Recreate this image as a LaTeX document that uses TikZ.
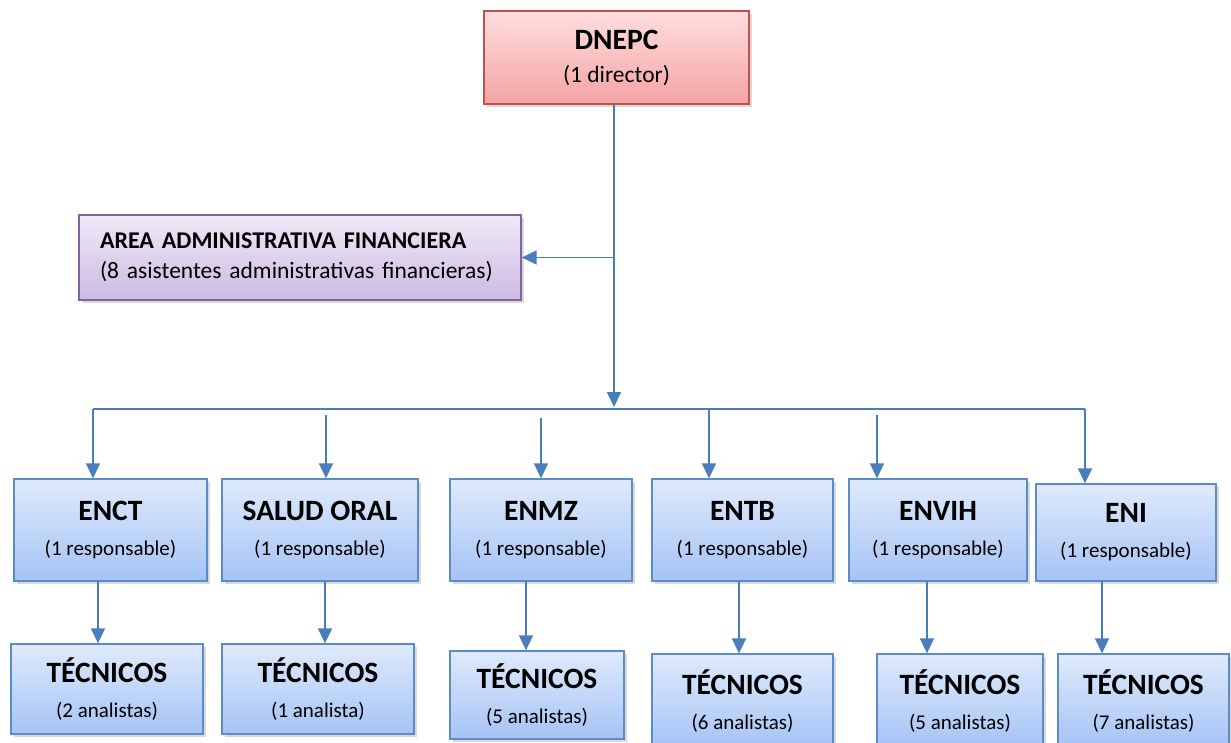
\documentclass[tikz,border=0pt]{standalone}
\usepackage{fontspec}
\setmainfont{Carlito}
\usetikzlibrary{arrows.meta, shadows, calc}
\definecolor{lineblue}{HTML}{4A7EBB}
\definecolor{boxblue}{HTML}{5B8BC9}
\definecolor{blueTop}{HTML}{DFEAFC}
\definecolor{blueBot}{HTML}{A5C3F5}
\definecolor{redline}{HTML}{C0504D}
\definecolor{redTop}{HTML}{FFDEDE}
\definecolor{redBot}{HTML}{F4A3A3}
\definecolor{purpline}{HTML}{8064A2}
\definecolor{purpTop}{HTML}{EFE9F7}
\definecolor{purpBot}{HTML}{CBBBE2}
\tikzset{
    my-box/.style={
        draw, line width=1.3pt, inner sep=0pt, align=center,
        font=\fontsize{21}{35}\selectfont,
        drop shadow={opacity=.3, shadow xshift=3pt, shadow yshift=-3pt}
    },
    my-unit-box/.style={
        my-box, draw=boxblue, top color=blueTop, bottom color=blueBot
    },
    my-head-box/.style={
        my-box, draw=redline, top color=redTop, bottom color=redBot,
        font=\fontsize{23.5}{33}\selectfont
    },
    my-admin-box/.style={
        my-box, draw=purpline, top color=purpTop, bottom color=purpBot,
        align=left, text width=400pt, inner xsep=21pt,
        font=\fontsize{23.5}{30}\selectfont
    },
    my-arrow/.style={
        draw=lineblue, line width=1.6pt, -{Triangle[width=14pt,length=15pt]}
    },
    my-line/.style={
        draw=lineblue, line width=1.6pt
    },
}
\newcommand{\boxtitle}[1]{{\fontsize{29.5}{35}\selectfont\bfseries #1}}

\begin{document}
\begin{tikzpicture}[x=1pt, y=-1pt]

        \useasboundingbox (0,0) rectangle (1231,742);

        % DIRECCION
        \node[my-head-box, minimum width=265, minimum height=93] (DNEPC) at (616.5,57.5)
            {\boxtitle{DNEPC}\\(1 director)};

        % AREA ADMINISTRATIVA
        \node[my-admin-box, minimum height=85] (ADMIN) at (300,257.5)
            {{\fontsize{24}{30}\selectfont\bfseries AREA ADMINISTRATIVA FINANCIERA}\\(8 asistentes administrativas financieras)};

        % ESTRATEGIAS
        \node[my-unit-box, minimum width=193, minimum height=102] (ENCT)  at (110.5,530)
            {\boxtitle{ENCT}\\(1 responsable)};
        \node[my-unit-box, minimum width=196, minimum height=102] (SALUD) at (320,530)
            {\boxtitle{SALUD ORAL}\\(1 responsable)};
        \node[my-unit-box, minimum width=182, minimum height=102] (ENMZ)  at (541,530)
            {\boxtitle{ENMZ}\\(1 responsable)};
        \node[my-unit-box, minimum width=181, minimum height=102] (ENTB)  at (742.5,530)
            {\boxtitle{ENTB}\\(1 responsable)};
        \node[my-unit-box, minimum width=178, minimum height=102] (ENVIH) at (938,530)
            {\boxtitle{ENVIH}\\(1 responsable)};
        \node[my-unit-box, minimum width=180, minimum height=97]  (ENI)   at (1126,532.5)
            {\boxtitle{ENI}\\(1 responsable)};

        % TECNICOS
        \node[my-unit-box, minimum width=192, minimum height=90] (TEC1) at (107,689)
            {\boxtitle{TÉCNICOS}\\(2 analistas)};
        \node[my-unit-box, minimum width=192, minimum height=90] (TEC2) at (318,689)
            {\boxtitle{TÉCNICOS}\\(1 analista)};
        \node[my-unit-box, minimum width=174, minimum height=88] (TEC3) at (537,695)
            {\boxtitle{TÉCNICOS}\\(5 analistas)};
        \node[my-unit-box, minimum width=181, minimum height=94] (TEC4) at (742.5,701)
            {\boxtitle{TÉCNICOS}\\(6 analistas)};
        \node[my-unit-box, minimum width=166, minimum height=94] (TEC5) at (960,701)
            {\boxtitle{TÉCNICOS}\\(5 analistas)};
        \node[my-unit-box, minimum width=171, minimum height=94] (TEC6) at (1143.5,701)
            {\boxtitle{TÉCNICOS}\\(7 analistas)};

        % TRONCO Y BARRA, PUNTOS DE CONEXION
        \coordinate[] (TOP)    at (614,104);
        \coordinate[] (HUB)    at (614,407);
        \coordinate[] (BUSL)   at (93,409);
        \coordinate[] (BUSR)   at (1085,409);
        \coordinate[] (JOIN)   at (TOP |- ADMIN.east);
        \draw[my-arrow] (TOP) -- (HUB);
        \draw[my-arrow] (JOIN) -- (ADMIN.east);
        \draw[my-line]  (BUSL) -- (BUSR);

        % BARRA A ESTRATEGIAS
        \coordinate[] (ENCTIN)  at (93,409);
        \coordinate[] (SALUDIN) at (326,415);
        \coordinate[] (ENMZIN)  at (541,418);
        \coordinate[] (ENTBIN)  at (709,410);
        \coordinate[] (ENVIHIN) at (877,415);
        \coordinate[] (ENIIN)   at (1085,409);
        \draw[my-arrow] (ENCTIN)  -- (ENCTIN  |- ENCT.north);
        \draw[my-arrow] (SALUDIN) -- (SALUDIN |- SALUD.north);
        \draw[my-arrow] (ENMZIN)  -- (ENMZIN  |- ENMZ.north);
        \draw[my-arrow] (ENTBIN)  -- (ENTBIN  |- ENTB.north);
        \draw[my-arrow] (ENVIHIN) -- (ENVIHIN |- ENVIH.north);
        \draw[my-arrow] (ENIIN)   -- (ENIIN   |- ENI.north);

        % ESTRATEGIAS A TECNICOS
        \coordinate[] (ENCTOUT)  at (98,581);
        \coordinate[] (SALUDOUT) at (325,581);
        \coordinate[] (ENMZOUT)  at (526,581);
        \coordinate[] (ENTBOUT)  at (739,581);
        \coordinate[] (ENVIHOUT) at (927,581);
        \coordinate[] (ENIOUT)   at (1102,581);
        \draw[my-arrow] (ENCTOUT)  -- (ENCTOUT  |- TEC1.north);
        \draw[my-arrow] (SALUDOUT) -- (SALUDOUT |- TEC2.north);
        \draw[my-arrow] (ENMZOUT)  -- (ENMZOUT  |- TEC3.north);
        \draw[my-arrow] (ENTBOUT)  -- (ENTBOUT  |- TEC4.north);
        \draw[my-arrow] (ENVIHOUT) -- (ENVIHOUT |- TEC5.north);
        \draw[my-arrow] (ENIOUT)   -- (ENIOUT   |- TEC6.north);

\end{tikzpicture}
\end{document}
